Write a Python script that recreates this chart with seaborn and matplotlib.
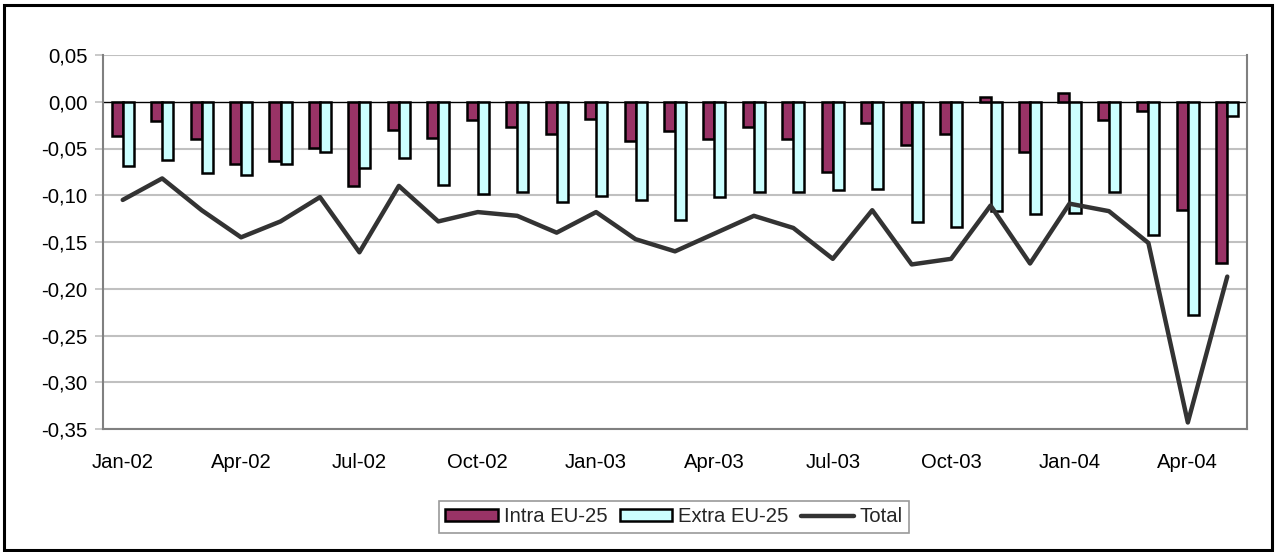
import numpy as np
import pandas as pd
import matplotlib
matplotlib.use("Agg")
import matplotlib.pyplot as plt
import seaborn as sns
from matplotlib.patches import Patch, Rectangle
from matplotlib.lines import Line2D
from matplotlib.ticker import FuncFormatter

months = ["Jan-02", "Feb-02", "Mar-02", "Apr-02", "May-02", "Jun-02", "Jul-02", "Aug-02",
          "Sep-02", "Oct-02", "Nov-02", "Dec-02", "Jan-03", "Feb-03", "Mar-03", "Apr-03",
          "May-03", "Jun-03", "Jul-03", "Aug-03", "Sep-03", "Oct-03", "Nov-03", "Dec-03",
          "Jan-04", "Feb-04", "Mar-04", "Apr-04", "May-04"]
intra = [-0.037, -0.021, -0.040, -0.067, -0.063, -0.049, -0.090, -0.030,
         -0.039, -0.020, -0.027, -0.034, -0.018, -0.042, -0.031, -0.040,
         -0.027, -0.040, -0.075, -0.023, -0.046, -0.035, 0.005, -0.054,
         0.0095, -0.020, -0.010, -0.116, -0.172]
extra = [-0.069, -0.062, -0.076, -0.078, -0.067, -0.054, -0.071, -0.060,
         -0.089, -0.099, -0.097, -0.107, -0.101, -0.105, -0.127, -0.102,
         -0.097, -0.096, -0.094, -0.093, -0.129, -0.134, -0.117, -0.120,
         -0.119, -0.097, -0.142, -0.228, -0.015]
total = [-0.105, -0.082, -0.116, -0.145, -0.128, -0.102, -0.161, -0.090,
         -0.128, -0.118, -0.122, -0.140, -0.118, -0.147, -0.160, -0.141,
         -0.122, -0.135, -0.168, -0.116, -0.174, -0.168, -0.111, -0.173,
         -0.109, -0.117, -0.151, -0.343, -0.187]
series_names = ["Intra EU-25", "Extra EU-25", "Total"]
xtick_labels = months[::3]

sns.set_theme(style="white")
plt.rcParams['font.family'] = ['Liberation Sans', 'DejaVu Sans']

c_intra = "#993366"
c_extra = "#CCFFFF"
c_total = "#333333"
FS = 14.6

fig = plt.figure(figsize=(12.76, 5.52), dpi=100)
ax = fig.add_axes([103/1276, 1-429/552, (1247-103)/1276, (429-55)/552])

df = pd.DataFrame({
    "month": months * 2,
    "value": intra + extra,
    "series": [series_names[0]] * len(months) + [series_names[1]] * len(months),
})
sns.barplot(data=df, x="month", y="value", hue="series", order=months,
            hue_order=series_names[:2], palette=[c_intra, c_extra],
            width=0.56, edgecolor="black", linewidth=1.8, ax=ax,
            legend=False, saturation=1, zorder=3)

df_line = pd.DataFrame({"pos": np.arange(len(months)), "value": total})
sns.lineplot(data=df_line, x="pos", y="value", color=c_total, lw=3.2, ax=ax,
             zorder=4, legend=False)

ax.set_xlim(-0.5, len(months) - 0.5)
ax.set_ylim(-0.35, 0.05)
yt = np.round(np.arange(-0.35, 0.051, 0.05), 2)
ax.set_yticks(yt)
ax.yaxis.set_major_formatter(FuncFormatter(lambda v, p: f"{abs(v) if abs(v) < 1e-9 else v:.2f}".replace(".", ",")))
ax.set_xticks(np.arange(0, len(months), 3))
ax.set_xticklabels(xtick_labels)
ax.set_xlabel("")
ax.set_ylabel("")
for y in yt:
    if abs(y) > 1e-9:
        ax.axhline(y, color="#C0C0C0", lw=1.5, zorder=1)
ax.axhline(0, color="black", lw=1.0, zorder=2)

for side in ["left", "bottom", "right"]:
    ax.spines[side].set_visible(True)
    ax.spines[side].set_color("#808080")
    ax.spines[side].set_linewidth(1.5)
ax.spines["top"].set_visible(False)

ax.tick_params(axis="y", which="both", left=True, length=6, width=1.2, color="#C0C0C0",
               labelsize=FS, labelcolor="black", pad=5)
ax.tick_params(axis="x", which="both", bottom=False, labelsize=FS, labelcolor="black", pad=11)

handles = [Patch(facecolor=c_intra, edgecolor="black", lw=1.8),
           Patch(facecolor=c_extra, edgecolor="black", lw=1.8),
           Line2D([0], [0], color=c_total, lw=3.2)]
leg = fig.legend(handles, series_names, loc="center", bbox_to_anchor=(674/1276, 1-517/552),
                 ncol=3, frameon=True, fancybox=False, fontsize=FS, handlelength=2.6,
                 handletextpad=0.3, columnspacing=0.6, borderpad=0.3, borderaxespad=0,
                 handleheight=0.55)
leg.get_frame().set_edgecolor("#808080")
leg.get_frame().set_linewidth(1.2)

fig.patches.append(Rectangle((4/1276, 2/552), 1268/1276, 545/552, transform=fig.transFigure,
                             fill=False, edgecolor="black", lw=2.2))

fig.savefig("out.png", dpi=100)
